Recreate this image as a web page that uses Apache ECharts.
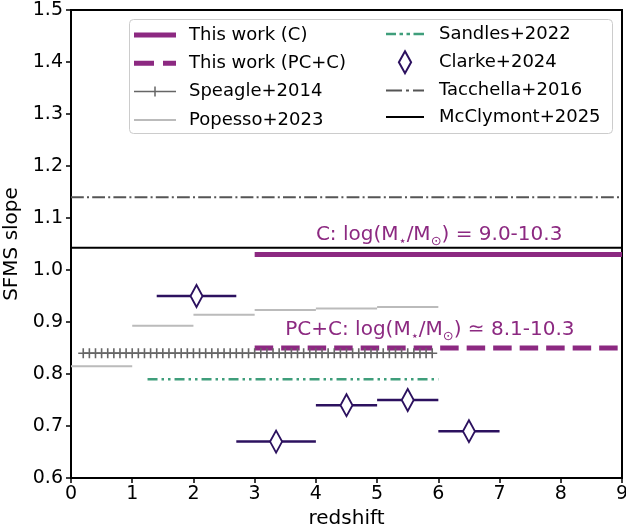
<!DOCTYPE html>
<html>
<head>
<meta charset="utf-8">
<title>SFMS slope vs redshift</title>
<script src="https://cdn.jsdelivr.net/npm/echarts@6/dist/echarts.min.js"></script>
<style>
  html, body { margin: 0; padding: 0; background: #fff; }
  #chart { width: 626px; height: 530px; }
</style>
</head>
<body>
<div id="chart"></div>
<script>
// values (x = redshift, y = SFMS slope)
const cZ = [3, 9]
const cSlope = [1.03, 1.03]
const pcZ = [3, 9]
const pcSlope = [0.85, 0.85]
const speagleZ = [0.2, 0.3, 0.4, 0.5, 0.6, 0.7, 0.8, 0.9, 1.0, 1.1, 1.2, 1.3, 1.4, 1.5, 1.6, 1.7, 1.8, 1.9,
  2.0, 2.1, 2.2, 2.3, 2.4, 2.5, 2.6, 2.7, 2.8, 2.9, 3.0, 3.1, 3.2, 3.3, 3.4, 3.5, 3.6, 3.7, 3.8, 3.9,
  4.0, 4.1, 4.2, 4.3, 4.4, 4.5, 4.6, 4.7, 4.8, 4.9, 5.0, 5.1, 5.2, 5.3, 5.4, 5.5, 5.6, 5.7, 5.8, 5.9]
const speagleSlope = 0.84
const popessoEdges = [0, 1, 2, 3, 4, 5, 6]
const popessoSlope = [0.815, 0.893, 0.914, 0.923, 0.926, 0.929]
const sandlesZ = [1.25, 6.0]
const sandlesSlope = [0.79, 0.79]
const clarkeZ = [2.05, 3.35, 4.5, 5.5, 6.5]
const clarkeZlo = [1.4, 2.7, 4.0, 5.0, 6.0]
const clarkeZhi = [2.7, 4.0, 5.0, 6.0, 7.0]
const clarkeSlope = [0.95, 0.67, 0.74, 0.75, 0.69]
const tacchellaZ = [0, 9]
const tacchellaSlope = [1.14, 1.14]
const mcclymontZ = [0, 9]
const mcclymontSlope = [1.043, 1.043]

const purple = '#8c2981'
const clarkeColor = '#2c115f'
const sandlesColor = '#3f9e7b'
const font = 'DejaVu Sans'

function pairs(xs, ys) {
  return xs.map((x, i) => [x, Array.isArray(ys) ? ys[i] : ys])
}

// step segments with a break between bins
const popessoData = []
popessoSlope.forEach((s, i) => {
  popessoData.push([popessoEdges[i], s], [popessoEdges[i + 1], s], [popessoEdges[i + 1], '-'])
})

const plusPath = 'path://M0,4.2H4.2V0H5.8V4.2H10V5.8H5.8V10H4.2V5.8H0Z'
const diamondPath = 'path://M5,0L10,9L5,18L0,9Z'

// legend icons (drawn like matplotlib handles)
const iconSolidC = 'path://M0,0H42V5H0Z'
const iconDashPC = 'path://M0,0H20V5H0ZM29,0H42V5H29Z'
const iconSpeagle = 'path://M0,4.25H20.25V0H21.75V4.25H42V5.75H21.75V10H20.25V5.75H0Z'
const iconPopesso = 'path://M0,0H42V2H0Z'
const iconSandles = 'path://M0,0H10V2.5H0ZM13.5,0H17V2.5H13.5ZM20.5,0H24V2.5H20.5ZM27.5,0H38V2.5H27.5Z'
const iconTacchella = 'path://M0,0H16V2H0ZM20,0H23V2H20ZM27,0H38V2H27Z'
const iconMcClymont = 'path://M0,0H38V2H0Z'

const chart = echarts.init(document.getElementById('chart'))

const option = {
  animation: false,
  backgroundColor: '#fff',
  textStyle: { fontFamily: font },
  grid: {
    left: 71, right: 4, top: 10, bottom: 52,
    outerBoundsMode: 'none',
    show: true, borderColor: '#000', borderWidth: 2
  },
  xAxis: {
    type: 'value',
    min: 0,
    max: 9,
    interval: 1,
    name: 'redshift',
    nameLocation: 'middle',
    nameGap: 31,
    nameTextStyle: { fontSize: 20, color: '#000', fontFamily: font },
    axisLine: { lineStyle: { color: '#000', width: 2 } },
    axisTick: { length: 5, lineStyle: { color: '#000', width: 1.5 } },
    axisLabel: { fontSize: 19, color: '#000', margin: 7, fontFamily: font },
    splitLine: { show: false }
  },
  yAxis: {
    type: 'value',
    min: 0.6,
    max: 1.5,
    interval: 0.1,
    name: 'SFMS slope',
    nameLocation: 'middle',
    nameGap: 45,
    nameTextStyle: { fontSize: 20, color: '#000', fontFamily: font },
    axisLine: { show: true, lineStyle: { color: '#000', width: 2 } },
    axisTick: { show: true, length: 5, lineStyle: { color: '#000', width: 1.5 } },
    axisLabel: { fontSize: 19, color: '#000', margin: 8, fontFamily: font, formatter: v => v.toFixed(1) },
    splitLine: { show: false }
  },
  legend: [{
    orient: 'vertical',
    left: 134,
    top: 25,
    padding: 0,
    itemWidth: 42,
    itemHeight: 14,
    itemGap: 8.3,
    itemStyle: { borderWidth: 0 },
    textStyle: { fontSize: 18, color: '#000', fontFamily: font, lineHeight: 20, padding: [0, 0, 0, 8] },
    data: [
      { name: 'This work (C)', icon: iconSolidC },
      { name: 'This work (PC+C)', icon: iconDashPC },
      { name: 'Speagle+2014', icon: iconSpeagle },
      { name: 'Popesso+2023', icon: iconPopesso }
    ]
  }, {
    orient: 'vertical',
    left: 386,
    top: 24,
    padding: 0,
    itemWidth: 38,
    itemHeight: 22,
    itemGap: 6.3,
    itemStyle: { borderWidth: 0 },
    textStyle: { fontSize: 18, color: '#000', fontFamily: font, lineHeight: 20, padding: [0, 0, 0, 10] },
    data: [
      { name: 'Sandles+2022', icon: iconSandles },
      { name: 'Clarke+2024', icon: diamondPath, itemStyle: { color: '#fff', borderColor: clarkeColor, borderWidth: 2 } },
      { name: 'Tacchella+2016', icon: iconTacchella },
      { name: 'McClymont+2025', icon: iconMcClymont }
    ]
  }],
  series: [
    {
      name: 'Popesso+2023',
      type: 'line',
      data: popessoData,
      symbol: 'none',
      connectNulls: false,
      lineStyle: { color: '#bbbbbb', width: 2 },
      itemStyle: { color: '#bbbbbb' }
    },
    {
      name: 'Speagle+2014',
      type: 'line',
      data: pairs(speagleZ, speagleSlope),
      symbol: plusPath,
      symbolSize: 10,
      showAllSymbol: true,
      lineStyle: { color: '#666666', width: 1.5 },
      itemStyle: { color: '#666666' }
    },
    {
      name: 'Sandles+2022',
      type: 'line',
      data: pairs(sandlesZ, sandlesSlope),
      symbol: 'none',
      lineStyle: { color: sandlesColor, width: 2.5, type: [10, 4, 2.5, 4, 2.5, 4] },
      itemStyle: { color: sandlesColor }
    },
    {
      name: 'Tacchella+2016',
      type: 'line',
      data: pairs(tacchellaZ, tacchellaSlope),
      symbol: 'none',
      lineStyle: { color: '#555555', width: 2, type: [12.8, 3.2, 2, 3.2] },
      itemStyle: { color: '#555555' }
    },
    {
      name: 'McClymont+2025',
      type: 'line',
      data: pairs(mcclymontZ, mcclymontSlope),
      symbol: 'none',
      lineStyle: { color: '#000', width: 2 },
      itemStyle: { color: '#000' }
    },
    {
      name: 'This work (C)',
      type: 'line',
      data: pairs(cZ, cSlope),
      symbol: 'none',
      lineStyle: { color: purple, width: 5 },
      itemStyle: { color: purple }
    },
    {
      name: 'This work (PC+C)',
      type: 'line',
      data: pairs(pcZ, pcSlope),
      symbol: 'none',
      lineStyle: { color: purple, width: 5, type: [18.5, 8] },
      itemStyle: { color: purple }
    },
    {
      // horizontal error bars for Clarke+2024
      name: 'Clarke+2024 err',
      type: 'custom',
      data: clarkeZ.map((z, i) => [clarkeZlo[i], clarkeZhi[i], clarkeSlope[i]]),
      renderItem: function(params, api) {
        const p0 = api.coord([api.value(0), api.value(2)])
        const p1 = api.coord([api.value(1), api.value(2)])
        return {
          type: 'line',
          shape: { x1: p0[0], y1: p0[1], x2: p1[0], y2: p1[1] },
          style: { stroke: clarkeColor, lineWidth: 2.5 }
        }
      },
      z: 3
    },
    {
      name: 'Clarke+2024',
      type: 'scatter',
      data: pairs(clarkeZ, clarkeSlope),
      symbol: diamondPath,
      symbolSize: [12, 22],
      itemStyle: { color: '#fff', borderColor: clarkeColor, borderWidth: 2, opacity: 1 },
      z: 4
    }
  ]
}

chart.setOption(option)

// annotations placed at data coordinates
const cPos = chart.convertToPixel({ gridIndex: 0 }, [4.0, 1.067])
const pcPos = chart.convertToPixel({ gridIndex: 0 }, [3.5, 0.885])
const richStyle = {
  sub: { fontSize: 13, lineHeight: 13, verticalAlign: 'bottom', fontFamily: font, fill: purple }
}
chart.setOption({
  graphic: [
    {
      type: 'rect',
      left: 129,
      top: 19,
      shape: { width: 483, height: 114, r: 4 },
      style: { fill: 'rgba(255,255,255,0.8)', stroke: '#cccccc', lineWidth: 1 },
      z: 1
    },
    {
      type: 'text',
      x: cPos[0],
      y: cPos[1],
      style: {
        text: 'C: log(M{sub|⋆}/M{sub|⊙}) = 9.0-10.3',
        fill: purple,
        fontSize: 20,
        fontFamily: font,
        lineHeight: 26,
        verticalAlign: 'middle',
        align: 'left',
        rich: richStyle
      },
      z: 10
    },
    {
      type: 'text',
      x: pcPos[0],
      y: pcPos[1],
      style: {
        text: 'PC+C: log(M{sub|⋆}/M{sub|⊙}) ≃ 8.1-10.3',
        fill: purple,
        fontSize: 20,
        fontFamily: font,
        lineHeight: 26,
        verticalAlign: 'middle',
        align: 'left',
        rich: richStyle
      },
      z: 10
    }
  ]
})
</script>
</body>
</html>
